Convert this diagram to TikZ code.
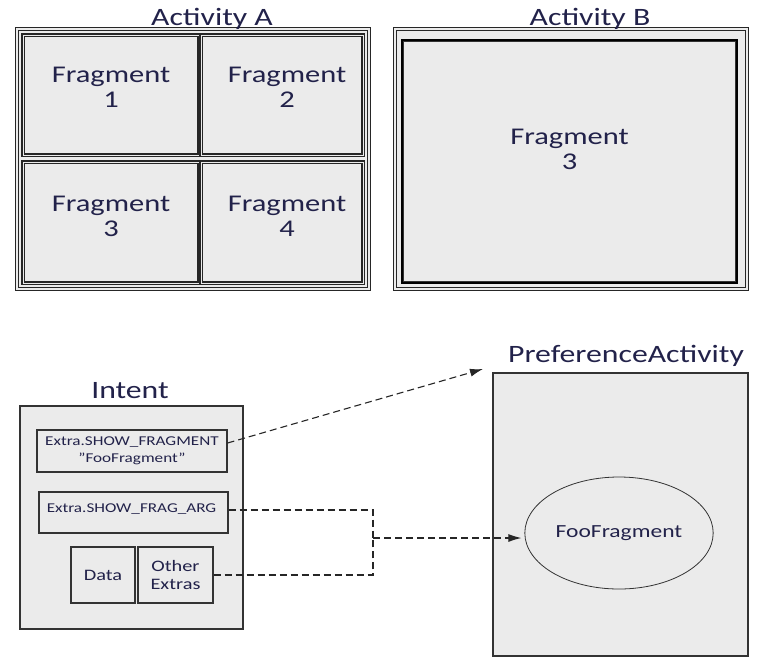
\documentclass[tikz,border=0pt]{standalone}
\usepackage{fontspec}
\setmainfont{Carlito}[FakeStretch=1.27]
\usetikzlibrary{arrows.meta,positioning,shapes.geometric}
\definecolor{boxfill}{HTML}{EBEBEB}
\definecolor{ink}{HTML}{22224A}

\begin{document}
\begin{tikzpicture}[x=1pt, y=-1pt, >=Latex, text=ink,
  font=\fontsize{24}{25}\selectfont,
  actbox/.style={draw=black!85, fill=boxfill, line width=1pt, double=boxfill, double distance=1.2pt, inner sep=0pt},
  cell/.style={actbox, line width=1.2pt, double distance=1pt},
  plain/.style={draw=black!80, fill=boxfill, line width=1.2pt, inner sep=0pt},
  small/.style={font=\fontsize{13.5}{17}\selectfont, align=center},
  title/.style={anchor=base, font=\fontsize{25}{27}\selectfont},
  conn/.style={draw=black!85, line width=1.1pt, dash pattern=on 7pt off 4pt}]
\useasboundingbox (0,0) rectangle (765,657);
% Activity A
\node[actbox, minimum width=352pt, minimum height=260pt] (actA) at (193,159) {};
\node[title] (titA) at (212,25) {Activity A};
\node[cell, minimum width=176pt, minimum height=120pt] (f1) at (111,95) {};
\node[cell, minimum width=162pt, minimum height=120pt] (f2) at (282,95) {};
\node[cell, minimum width=176pt, minimum height=121pt] (f3) at (111,222.5) {};
\node[cell, minimum width=162pt, minimum height=121pt] (f4) at (282,222.5) {};
\node[align=center] at ([yshift=8pt]f1.center) {Fragment\\1};
\node[align=center] at ([xshift=5pt,yshift=8pt]f2.center) {Fragment\\2};
\node[align=center] at ([yshift=6pt]f3.center) {Fragment\\3};
\node[align=center] at ([xshift=5pt,yshift=6pt]f4.center) {Fragment\\4};
% Activity B
\node[actbox, minimum width=352pt, minimum height=260pt] (actB) at (571,159) {};
\node[title] (titB) at (590,25) {Activity B};
\node[draw=black, fill=boxfill, line width=2.8pt, inner sep=0pt,
  minimum width=335pt, minimum height=243pt] (fB) at (569.5,161.5) {};
\draw[black!80, line width=0.8pt] ([shift={(2.8pt,-2.8pt)}]fB.north west) rectangle ([shift={(-2.8pt,2.8pt)}]fB.south east);
\node[align=center] at ([yshift=12pt]fB.center) {Fragment\\3};
% Intent
\node[plain, line width=1.4pt, minimum width=223pt, minimum height=223pt] (intent) at (131.5,517.5) {};
\node[title] (titI) at (130,398) {Intent};
\node[plain, minimum width=190pt, minimum height=42pt] (show) at (132,451) {};
\node[small] at (show.center) {Extra.SHOW\_FRAGMENT\\"FooFragment"};
\node[plain, minimum width=189pt, minimum height=41pt] (arg) at (133.5,512.5) {};
\node[small] at ([xshift=-2pt,yshift=3pt]arg.center) {Extra.SHOW\_FRAG\_ARG};
\node[plain, minimum width=64pt, minimum height=56pt, font=\fontsize{16}{18}\selectfont] (data) at (103,575) {Data};
\node[plain, minimum width=75pt, minimum height=56pt, align=center, font=\fontsize{16}{18}\selectfont] (other) at (175.5,575) {Other\\Extras};
% PreferenceActivity
\node[plain, line width=1.6pt, minimum width=255pt, minimum height=283pt] (pref) at (620.5,514.5) {};
\node[title] (titP) at (626,362) {PreferenceActivity};
\node[draw=black!80, ellipse, line width=0.8pt, minimum width=162pt, minimum height=112pt,
  font=\fontsize{18.5}{20}\selectfont] (foo) at (619,533) {FooFragment};
% connectors
\coordinate (tip) at (483,369);
\coordinate (jn) at (373,538);
\draw[conn, ->, >={Latex[length=13pt, width=8pt]}] ([yshift=8pt]show.east) -- (tip);
\draw[conn] ([yshift=2.5pt]arg.east) -| (jn);
\draw[conn] (other.east) -| (jn);
\draw[conn, ->, >={Latex[length=13pt, width=8pt]}] (jn) -- ([xshift=-3pt]jn -| foo.west);
\end{tikzpicture}
\end{document}
